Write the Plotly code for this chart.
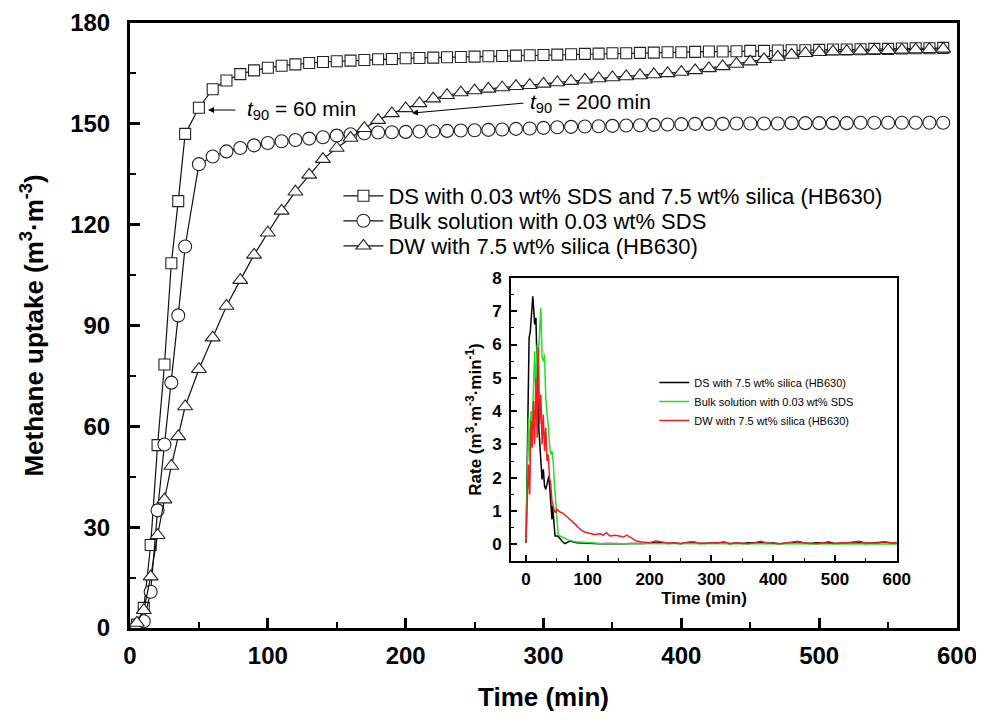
import plotly.graph_objects as go

FONT = "Liberation Sans, Arial, sans-serif"

# ---------------- main chart data ----------------
ds_time = [5, 10, 15, 20, 25, 30, 35, 40, 50, 60, 70, 80, 90, 100, 110, 120, 130, 140, 150, 160,
           170, 180, 190, 200, 210, 220, 230, 240, 250, 260, 270, 280, 290, 300, 310, 320, 330,
           340, 350, 360, 370, 380, 390, 400, 410, 420, 430, 440, 450, 460, 470, 480, 490, 500,
           510, 520, 530, 540, 550, 560, 570, 580, 590]
ds_uptake = [1.0, 6.0, 24.7, 54.4, 78.4, 108.5, 127.0, 147.0, 154.8, 160.3, 162.9, 164.8, 165.9,
             166.7, 167.3, 167.7, 168.1, 168.4, 168.6, 168.8, 169.0, 169.2, 169.3, 169.5, 169.6,
             169.7, 169.8, 169.9, 170.0, 170.1, 170.2, 170.3, 170.4, 170.5, 170.6, 170.7, 170.8,
             170.9, 171.0, 171.0, 171.1, 171.2, 171.3, 171.3, 171.4, 171.5, 171.5, 171.6, 171.7,
             171.7, 171.8, 171.9, 171.9, 172.0, 172.1, 172.1, 172.2, 172.3, 172.3, 172.4, 172.5,
             172.5, 172.6]

bulk_time = [5, 10, 15, 20, 25, 30, 35, 40, 50, 60, 70, 80, 90, 100, 110, 120, 130, 140, 150, 160,
             170, 180, 190, 200, 210, 220, 230, 240, 250, 260, 270, 280, 290, 300, 310, 320, 330,
             340, 350, 360, 370, 380, 390, 400, 410, 420, 430, 440, 450, 460, 470, 480, 490, 500,
             510, 520, 530, 540, 550, 560, 570, 580, 590]
bulk_uptake = [0.5, 2.0, 10.8, 35.0, 54.6, 73.0, 93.0, 113.5, 138.0, 140.3, 141.8, 142.8, 143.6,
               144.3, 144.8, 145.2, 145.6, 146.0, 146.5, 146.9, 147.2, 147.4, 147.5, 147.6, 147.7,
               147.8, 147.9, 148.0, 148.1, 148.2, 148.3, 148.5, 148.6, 148.8, 149.0, 149.1, 149.2,
               149.3, 149.4, 149.5, 149.6, 149.7, 149.8, 149.9, 150.0, 150.0, 150.0, 150.1, 150.1,
               150.1, 150.1, 150.2, 150.2, 150.2, 150.2, 150.2, 150.3, 150.3, 150.3, 150.3, 150.3,
               150.3, 150.3]

dw_time = [5, 10, 15, 20, 25, 30, 35, 40, 50, 60, 70, 80, 90, 100, 110, 120, 130, 140, 150, 160,
           170, 180, 190, 200, 210, 220, 230, 240, 250, 260, 270, 280, 290, 300, 310, 320, 330,
           340, 350, 360, 370, 380, 390, 400, 410, 420, 430, 440, 450, 460, 470, 480, 490, 500,
           510, 520, 530, 540, 550, 560, 570, 580, 590]
dw_uptake = [1.5, 5.3, 15.3, 27.6, 38.2, 48.2, 57.0, 65.9, 77.0, 86.4, 95.8, 103.5, 111.0, 117.6,
             124.1, 129.8, 134.8, 139.5, 142.8, 145.8, 148.7, 151.1, 153.1, 154.6, 156.1, 157.5,
             158.5, 159.3, 159.9, 160.4, 160.8, 161.2, 161.5, 161.9, 162.3, 162.7, 163.1, 163.5,
             163.8, 164.1, 164.4, 164.7, 165.0, 165.4, 165.9, 166.5, 167.1, 167.8, 168.5, 169.2,
             169.9, 170.5, 171.0, 171.3, 171.5, 171.6, 171.7, 171.8, 171.9, 172.0, 172.1, 172.2,
             172.3]

main_names = ["DS with 0.03 wt% SDS and 7.5 wt% silica (HB630)",
              "Bulk solution with 0.03 wt% SDS",
              "DW with 7.5 wt% silica (HB630)"]

# ---------------- inset data ----------------
tail_time = [100, 110, 120, 130, 140, 150, 160, 170, 180, 190, 200, 210, 220, 230, 240, 250, 260,
             270, 280, 290, 300, 310, 320, 330, 340, 350, 360, 370, 380, 390, 400, 410, 420, 430,
             440, 450, 460, 470, 480, 490, 500, 510, 520, 530, 540, 550, 560, 570, 580, 590, 600]

rate_ds_time = [0, 2, 5, 7, 9, 11, 13, 14, 16, 17, 19, 21, 23, 24, 26, 28, 30, 32, 35, 37, 39, 42,
                43, 45, 47, 51, 54, 58, 63, 71, 82, 90] + tail_time
rate_ds = [0.05, 3.1, 6.2, 6.4, 7.0, 7.45, 6.9, 6.6, 6.8, 5.8, 4.6, 3.4, 2.8, 2.4, 1.95, 2.25,
           1.75, 1.65, 1.95, 2.05, 1.55, 0.75, 1.15, 0.65, 0.25, 0.25, 0.2, 0.1, 0.02, 0.1, 0.05,
           0.04,
           0.03, 0.03, 0.02, 0.03, 0.02, 0.03, 0.02, 0.03, 0.02, 0.03, 0.04, 0.08, 0.05, 0.03, 0.04,
           0.02, 0.05, 0.07, 0.03, 0.04, 0.03, 0.06, 0.05, 0.02, 0.04, 0.03, 0.05, 0.04, 0.07, 0.03,
           0.04, 0.02, 0.03, 0.05, 0.08, 0.04, 0.03, 0.05, 0.04, 0.07, 0.03, 0.04, 0.05, 0.06, 0.05,
           0.03, 0.04, 0.05, 0.07, 0.04, 0.03]

rate_bulk_time = [0, 2, 4, 6, 8, 10, 12, 14, 16, 18, 20, 22, 24, 26, 28, 30, 32, 34, 36, 38, 40, 42,
                  44, 46, 48, 50, 52, 55, 60, 65, 70, 80, 90] + tail_time
rate_bulk = [0.1, 2.5, 3.8, 2.5, 4.0, 3.5, 5.0, 5.8, 4.5, 6.0, 5.7, 6.3, 7.1, 5.6, 5.5, 5.7, 4.4,
             3.9, 3.6, 3.0, 2.7, 2.8, 2.5, 1.8, 1.2, 0.6, 0.3, 0.25, 0.2, 0.15, 0.12, 0.08, 0.06,
             0.05, 0.04, 0.03, 0.03, 0.02, 0.02, 0.02, 0.01, 0.02, 0.01, 0.02, 0.01, 0.02, 0.01,
             0.01, 0.02, 0.01, 0.01, 0.02, 0.01, 0.01, 0.02, 0.01, 0.01, 0.02, 0.01, 0.01, 0.02,
             0.01, 0.01, 0.02, 0.01, 0.01, 0.02, 0.01, 0.01, 0.02, 0.01, 0.01, 0.02, 0.01, 0.01,
             0.02, 0.01, 0.01, 0.02, 0.01, 0.01, 0.02, 0.01, 0.01]

rate_dw_time = [0, 2, 4, 6, 8, 10, 12, 14, 16, 18, 20, 22, 24, 26, 28, 30, 32, 34, 36, 38, 40, 42,
                44, 46, 48, 50, 55, 60, 65, 70, 75, 80, 85, 90, 95, 100, 110, 120, 125, 130, 136,
                145, 152, 158, 163, 171, 179, 187, 195, 200, 210, 220, 230, 240, 250, 260, 270,
                280, 290, 300, 310, 320, 330, 340, 350, 360, 370, 380, 390, 400, 410, 420, 430,
                440, 450, 460, 470, 480, 490, 500, 510, 520, 530, 540, 550, 560, 570, 580, 590, 600]
rate_dw = [0.1, 1.7, 2.4, 1.5, 3.7, 2.9, 4.3, 3.0, 5.0, 3.2, 5.9, 3.6, 4.5, 3.0, 3.9, 2.8, 3.5, 2.5,
           2.7, 2.0, 1.8, 1.3, 1.1, 1.0, 0.95, 1.05, 0.97, 0.93, 0.85, 0.77, 0.7, 0.6, 0.5, 0.42,
           0.37, 0.35, 0.3, 0.32, 0.28, 0.35, 0.25, 0.27, 0.25, 0.22, 0.28, 0.2, 0.1, 0.07, 0.05,
           0.05, 0.1, 0.06, 0.04, 0.05, 0.03, 0.06, 0.08, 0.04, 0.03, 0.05, 0.04, 0.08, 0.03, 0.04,
           0.03, 0.02, 0.05, 0.09, 0.04, 0.03, 0.02, 0.04, 0.06, 0.09, 0.04, 0.03, 0.02, 0.05, 0.04,
           0.03, 0.05, 0.04, 0.08, 0.09, 0.04, 0.03, 0.04, 0.08, 0.05, 0.06]

inset_names = ["DS with 7.5 wt% silica (HB630)",
               "Bulk solution with 0.03 wt% SDS",
               "DW with 7.5 wt% silica (HB630)"]
inset_colors = ["#000000", "#22e022", "#ee2020"]

fig = go.Figure()

main_series = [(ds_time, ds_uptake, "square", 11),
               (bulk_time, bulk_uptake, "circle", 13),
               (dw_time, dw_uptake, "triangle-up", 13)]
main_legends = ["legend", "legend3", "legend4"]
for (t, v, sym, sz), name, lg in zip(main_series, main_names, main_legends):
    fig.add_trace(go.Scatter(
        x=t, y=v, name=name, mode="lines+markers",
        line=dict(color="#111111", width=1.2),
        marker=dict(symbol=sym, size=sz, color="white",
                    line=dict(color="#222222", width=1.1)),
        legend=lg, xaxis="x", yaxis="y"))

inset_series = [(rate_ds_time, rate_ds), (rate_bulk_time, rate_bulk), (rate_dw_time, rate_dw)]
for (t, v), name, col in zip(inset_series, inset_names, inset_colors):
    fig.add_trace(go.Scatter(
        x=t, y=v, name=name, mode="lines",
        line=dict(color=col, width=1.5),
        legend="legend2", xaxis="x2", yaxis="y2"))

axis_common = dict(showgrid=False, zeroline=False, showline=True, linecolor="black",
                   mirror=True, ticks="inside", tickcolor="black", automargin=False)

# The page body adds an 8 px offset, so the figure is 976x712 and the
# plot area sits at page px x 130..957, y 23..628.
def py(p):
    return (628 - p) / 605.0

main_legend_style = dict(xanchor="left", yanchor="middle", bgcolor="rgba(0,0,0,0)",
                         borderwidth=0, font=dict(size=22, family=FONT), itemwidth=40)

fig.update_layout(
    width=976, height=712,
    margin=dict(l=122, r=27, t=15, b=92),
    paper_bgcolor="white", plot_bgcolor="white",
    font=dict(family=FONT, color="black"),
    xaxis=dict(**axis_common, domain=[0, 1], range=[0, 600], dtick=100, tick0=0,
               linewidth=3, ticklen=10, tickwidth=2.5,
               minor=dict(dtick=50, ticks="inside", ticklen=6, tickwidth=2, tickcolor="black"),
               tickfont=dict(size=24, weight="bold"), ticklabelstandoff=4,
               title=dict(text="Time (min)", font=dict(size=26, weight="bold"), standoff=21)),
    yaxis=dict(**axis_common, domain=[0, 1], range=[0, 180], dtick=30, tick0=0,
               linewidth=3, ticklen=10, tickwidth=2.5,
               minor=dict(dtick=15, ticks="inside", ticklen=6, tickwidth=2, tickcolor="black"),
               tickfont=dict(size=24, weight="bold"), ticklabelstandoff=12,
               title=dict(text="Methane uptake (m<sup>3</sup>·m<sup>-3</sup>)",
                          font=dict(size=26, weight="bold"), standoff=20)),
    xaxis2=dict(**axis_common, domain=[0.4607, 0.9274], range=[-24.3, 600.4], dtick=100, tick0=0,
                anchor="y2", linewidth=2, ticklen=6, tickwidth=1.5,
                minor=dict(dtick=50, ticks="inside", ticklen=3.5, tickwidth=1.2, tickcolor="black"),
                tickfont=dict(size=17, weight="bold"), ticklabelstandoff=2,
                title=dict(text="Time (min)", font=dict(size=17, weight="bold"), standoff=4)),
    yaxis2=dict(**axis_common, domain=[0.1107, 0.5787], range=[-0.5, 8], dtick=1, tick0=0,
                anchor="x2", linewidth=2, ticklen=6, tickwidth=1.5,
                minor=dict(dtick=0.5, ticks="inside", ticklen=3.5, tickwidth=1.2, tickcolor="black"),
                tickfont=dict(size=17, weight="bold"), ticklabelstandoff=4,
                title=dict(text="Rate (m<sup>3</sup>·m<sup>-3</sup>·min<sup>-1</sup>)",
                           font=dict(size=17, weight="bold"), standoff=6)),
    legend=dict(x=0.252, y=py(196), **main_legend_style),
    legend3=dict(x=0.252, y=py(221), **main_legend_style),
    legend4=dict(x=0.252, y=py(246), **main_legend_style),
    legend2=dict(x=0.634, y=py(368), xanchor="left", yanchor="top",
                 bgcolor="rgba(0,0,0,0)", borderwidth=0,
                 font=dict(size=11, family=FONT), tracegroupgap=0),
    showlegend=True,
)

# t90 annotations (arrows + text)
ann_font = dict(size=21, family=FONT, color="black")
fig.add_annotation(x=56.6, y=154.1, ax=77.6, ay=154.1, axref="x", ayref="y",
                   xref="x", yref="y", text="", showarrow=True,
                   arrowhead=2, arrowsize=1.2, arrowwidth=1, arrowcolor="black")
fig.add_annotation(x=83.4, y=154.1, xref="x", yref="y", xanchor="left", yanchor="middle",
                   text="<i>t</i><sub>90</sub> = 60 min", showarrow=False, font=ann_font)
fig.add_annotation(x=204.6, y=153.2, ax=286.6, ay=156.2, axref="x", ayref="y",
                   xref="x", yref="y", text="", showarrow=True,
                   arrowhead=2, arrowsize=1.2, arrowwidth=1, arrowcolor="black")
fig.add_annotation(x=288.8, y=156.2, xref="x", yref="y", xanchor="left", yanchor="middle",
                   text="<i>t</i><sub>90</sub> = 200 min", showarrow=False, font=ann_font)

fig.write_html("out.html")
